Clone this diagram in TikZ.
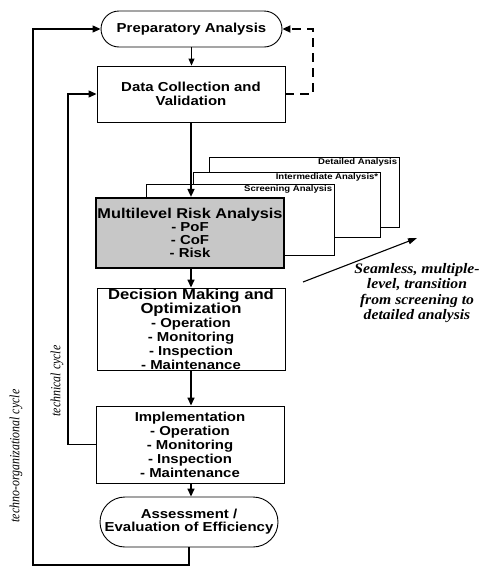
\documentclass[tikz,border=0pt]{standalone}
\usepackage{fontspec}
\setmainfont{Liberation Sans}[FakeStretch=1.15]
\newfontfamily\seamfont{Liberation Serif}[FakeStretch=1.08]
\newfontfamily\cyclefont{Liberation Serif}[FakeStretch=0.85]
\usetikzlibrary{arrows.meta}
\begin{document}
\begin{tikzpicture}[x=1pt,y=-1pt,
  box/.style={draw, line width=0.9pt, inner sep=0pt, align=center,
    font=\bfseries\fontsize{13}{14}\selectfont},
  stadium/.style={box, rounded corners=#1},
  card/.style={draw, line width=0.8pt, fill=white, inner sep=0pt},
  cardlabel/.style={anchor=north east, inner sep=2pt,
    font=\bfseries\fontsize{8.3}{9}\selectfont},
  thinarrow/.style={line width=0.9pt, -{Triangle[length=7pt,width=6pt]}},
  mainarrow/.style={line width=1.6pt, -{Triangle[length=8pt,width=7pt]}},
  loop/.style={line width=1.3pt, -{Triangle[length=8pt,width=7pt]}},
  dashloop/.style={line width=2.4pt, dash pattern=on 9pt off 6pt, -{Triangle[length=8pt,width=7pt]}},
  cyclelabel/.style={rotate=90, inner sep=0pt, font=\cyclefont\itshape\fontsize{14}{14}\selectfont},
]
\useasboundingbox (0,0) rectangle (481,568);

% stacked analysis cards
\node[card, minimum width=190, minimum height=70] (det) at (304,192) {};
\node[cardlabel] (detl) at (det.north east) {Detailed Analysis};
\node[card, minimum width=187, minimum height=65] (int) at (286.5,204.5) {};
\node[cardlabel] (intl) at (int.north east) {Intermediate Analysis*};
\node[card, minimum width=188, minimum height=71] (scr) at (240,219.5) {};
\node[cardlabel] (scrl) at (scr.north east) {Screening Analysis};

% main chain
\node[stadium=18, minimum width=181, minimum height=36] (pa) at (191.5,29) {Preparatory Analysis};
\node[box, minimum width=188, minimum height=56] (dcv) at (191,94) {Data Collection and\\Validation};
\node[box, line width=2.2pt, fill=black!22, minimum width=188, minimum height=70,
  font=\bfseries\fontsize{13}{13}\selectfont] (mra) at (190,233)
  {{\fontsize{14.2}{13}\selectfont Multilevel Risk Analysis}\\- PoF\\- CoF\\- Risk};
\node[box, minimum width=188, minimum height=82] (dmo) at (191,329)
  {{\fontsize{14.5}{14}\selectfont Decision Making and}\\{\fontsize{14.5}{14}\selectfont Optimization}\\- Operation\\- Monitoring\\- Inspection\\- Maintenance};
\node[box, minimum width=188, minimum height=77] (imp) at (190,444.5)
  {Implementation\\- Operation\\- Monitoring\\- Inspection\\- Maintenance};
\node[stadium=25, minimum width=178, minimum height=50, font=\bfseries\fontsize{13}{13}\selectfont] (as) at (189,522)
  {Assessment /\\Evaluation of Efficiency};

% connectors
\draw[thinarrow] (pa.south) -- (pa.south |- dcv.north);
\draw[mainarrow] (dcv.south) -- (dcv.south |- mra.north);
\draw[mainarrow] (mra.south -| dcv.south) -- (dcv.south |- dmo.north);
\draw[mainarrow] (dmo.south -| dcv.south) -- (dcv.south |- imp.north);
\draw[mainarrow] (imp.south -| dcv.south) -- (dcv.south |- as.north);

\coordinate (c1) at (33,565);
\draw[loop] (as.south) |- (c1) |- (pa.west);
\coordinate (c2) at (68,0);
\draw[loop] (imp.west) -- (imp.west -| c2) |- (dcv.west);
\coordinate (c3) at (313,0);
\draw[dashloop] (dcv.east) -- (dcv.east -| c3) |- (pa.east);

% cycle labels
\node[cyclelabel] (tocl) at (16,456) {techno-organizational cycle};
\node[cyclelabel] (tcl) at (57,381) {technical cycle};

% transition arrow and note
\coordinate (sa) at (303,282);
\coordinate (sb) at (417,238);
\draw[line width=1.1pt, -{Triangle[length=9pt,width=6pt]}] (sa) -- (sb);
\node[align=center, inner sep=0pt, font=\seamfont\bfseries\itshape\fontsize{14.5}{15.5}\selectfont] (note) at (417,293)
  {Seamless, multiple-\\level, transition\\from screening to\\detailed analysis};
\end{tikzpicture}
\end{document}
